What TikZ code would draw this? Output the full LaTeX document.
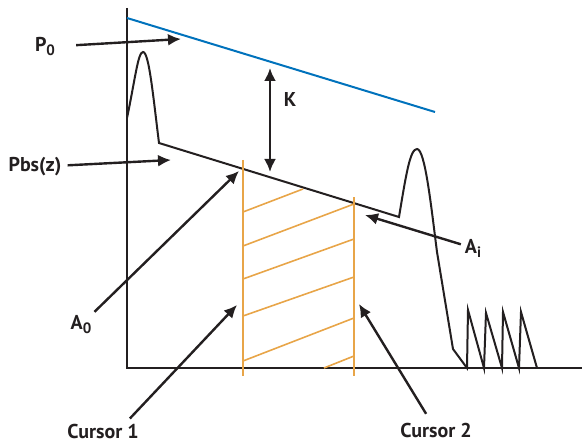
\documentclass[tikz,border=0pt]{standalone}
\usepackage{fontspec}
\setmainfont{PT Sans}
\usepackage{tikz}
\usetikzlibrary{arrows.meta,calc}
\definecolor{profblue}{RGB}{0,114,188}
\definecolor{cursorc}{RGB}{232,165,72}
\definecolor{ink}{RGB}{35,31,32}

\newcommand{\lowsub}[1]{\raisebox{-4pt}{\fontsize{15}{15}\selectfont #1}}

\tikzset{
  lbl/.style={font=\fontsize{20}{22}\selectfont\bfseries,text=ink,inner sep=1pt},
  arr/.style={-{Latex[length=13pt,width=12pt]},line width=2.4pt,draw=ink},
  curve/.style={line width=2pt,draw=ink,line join=miter},
  cur/.style={line width=1.8pt,draw=cursorc}
}

\begin{document}
\begin{tikzpicture}[x=1pt,y=-1pt]
    \useasboundingbox (0,0) rectangle (582,444);

    % Axes
    \draw[curve] (127,8) -- (127,368) -- (582,368);

    % Reference power line
    \draw[line width=2pt,profblue] (127,18) -- (435,112);

    % Backscatter signal
    \draw[curve] (127,118) .. controls (135,80) and (138,52) .. (143,52)
        .. controls (149,52) and (153,95) .. (159,143)
        -- (399,217)
        .. controls (406,175) and (410,149) .. (417,149)
        .. controls (425,149) and (431,205) .. (437,252)
        -- (453,349) -- (467,368)
        -- (468,310) -- (484,368) -- (486,313) -- (502,368)
        -- (503,312) -- (519,368) -- (521,312) -- (537,368);

    % Cursors
    \draw[cur] (243,160) -- (243,376);
    \draw[cur] (354,197) -- (354,376);

    % Hatching between cursors
    \draw[cur,line width=1.6pt] (243,212) -- (303,189);
    \draw[cur,line width=1.6pt] (243,246) -- (354,204);
    \draw[cur,line width=1.6pt] (243,279) -- (354,239);
    \draw[cur,line width=1.6pt] (243,316) -- (354,277);
    \draw[cur,line width=1.6pt] (243,361) -- (354,318);
    \draw[cur,line width=1.6pt] (324,368) -- (354,356);

    % Labels
    \node[lbl] (p0) at (45,47) {P\lowsub{0}};
    \node[lbl] (pbs) at (35,167) {Pbs(z)};
    \node[lbl] (k) at (290,100) {K};
    \node[lbl] (a0) at (81,325) {A\lowsub{0}};
    \node[lbl] (ai) at (473,248) {A\lowsub{i}};
    \node[lbl] (c1) at (103,431) {Cursor 1};
    \node[lbl] (c2) at (436,430) {Cursor 2};

    % Arrow targets
    \coordinate (p0tip) at (181,39);
    \coordinate (pbstip) at (171,160);
    \coordinate (a0tip) at (239,171);
    \coordinate (aitip) at (365,215);
    \coordinate (c1tip) at (237,305);
    \coordinate (c2tip) at (359,304);
    \coordinate (ktop) at (270,68);
    \coordinate (kbot) at (270,172);

    % Arrows
    \draw[arr,shorten <=20pt] (p0) -- (p0tip);
    \draw[arr,shorten <=5pt] (pbs) -- (pbstip);
    \draw[arr,shorten <=4pt] (a0) -- (a0tip);
    \draw[arr,shorten <=3pt] (ai) -- (aitip);
    \draw[arr] ([shift={(-10pt,4pt)}]c1.north east) -- (c1tip);
    \draw[arr,shorten <=9pt] (c2) -- (c2tip);
    \draw[arr,{Latex[length=13pt,width=12pt]}-{Latex[length=13pt,width=12pt]}] (ktop) -- (kbot);
\end{tikzpicture}
\end{document}
